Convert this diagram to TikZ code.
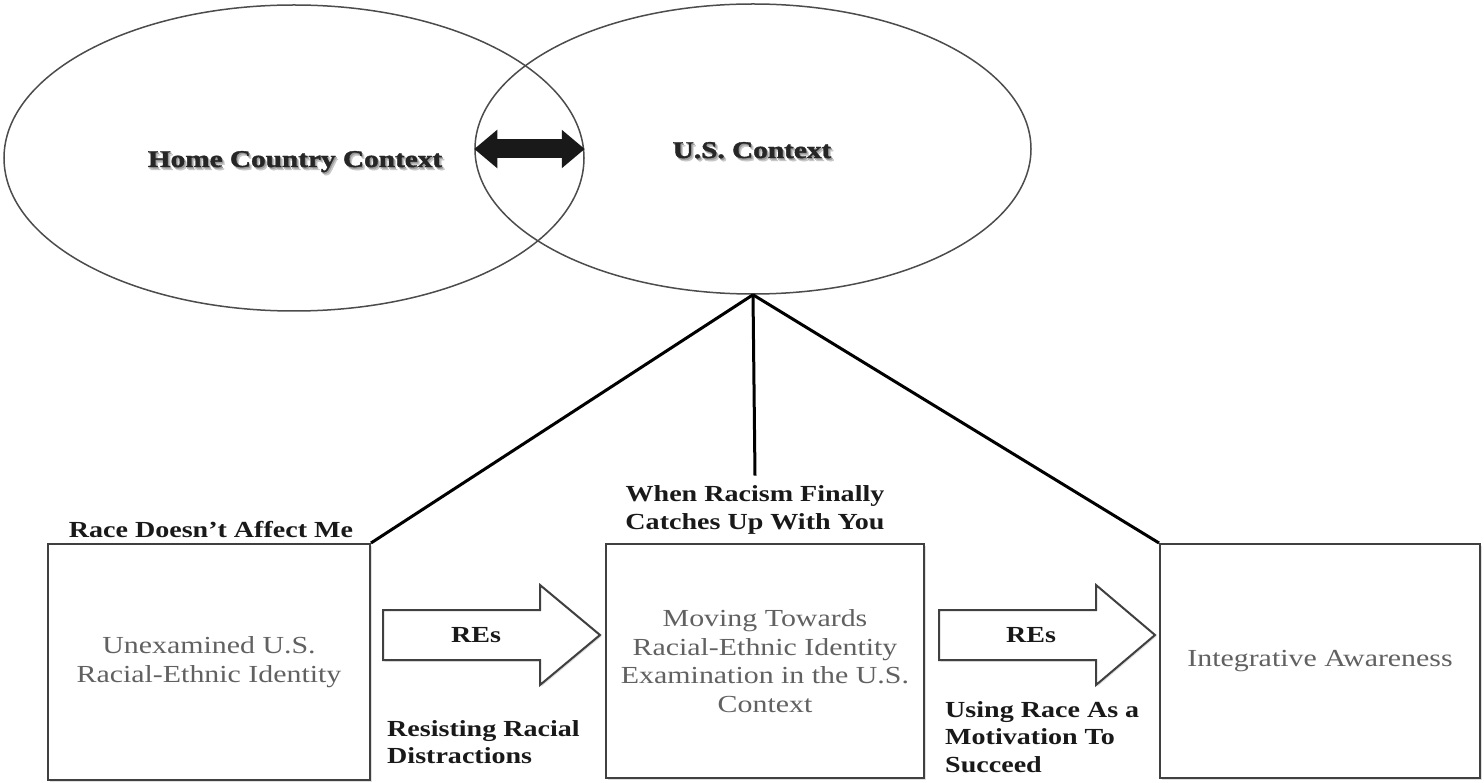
\documentclass[tikz,border=0pt]{standalone}
\usepackage{fontspec}
\setmainfont{Liberation Serif}[FakeStretch=1.22]
\newfontfamily\heavyfont{Liberation Serif}[FakeStretch=1.22, BoldFeatures={FakeBold=1.6}]
\usetikzlibrary{shapes.geometric,arrows.meta,shadows}
\newcommand\shtxt[1]{\leavevmode\rlap{\hspace{2.5pt}\raisebox{-3pt}{\textcolor{black!22}{#1}}}\rlap{\hspace{1.2pt}\raisebox{-1.5pt}{\textcolor{black!40}{#1}}}#1}
\begin{document}
\begin{tikzpicture}[x=1pt,y=-1pt,
  ctx/.style={ellipse, draw=black!70, line width=1.5pt, inner sep=0pt},
  ctxtext/.style={font=\heavyfont\bfseries\fontsize{24}{28}\selectfont, inner sep=0pt, anchor=base, text=black!85},
  stage/.style={rectangle, draw=black!75, line width=2pt, fill=white, text=black!62,
    align=center, font=\fontsize{24.5}{28.5}\selectfont, inner sep=0pt,
    drop shadow={opacity=0.25, shadow xshift=1.5pt, shadow yshift=-1.5pt}},
  lbl/.style={font=\bfseries\fontsize{23}{27.5}\selectfont, inner sep=0pt, text=black!90},
  link/.style={line width=3pt, black},
  biarrow/.style={line width=19pt, black!90,
    {Triangle[length=23pt,width=37pt]}-{Triangle[length=23pt,width=37pt]}},
  blockarrow/.style={draw=black!75, line width=2pt, fill=white, line join=miter,
    drop shadow={opacity=0.25, shadow xshift=1.5pt, shadow yshift=-1.5pt}}]
\fill[white] (0,0) rectangle (1484,783);
\useasboundingbox (0,0) rectangle (1484,783);

% contexts
\node[ctx, minimum width=580pt, minimum height=306pt] (home) at (294,158) {};
\node[ctx, minimum width=556pt, minimum height=290pt] (us) at (753,149) {};
\node[ctxtext] (hometxt) at (295,167) {\shtxt{Home Country Context}};
\node[ctxtext] (ustxt) at (752,158) {\shtxt{U.S. Context}};
\draw[biarrow] (us.west) -- (us.west -| home.east);

% stages
\node[stage, minimum width=322pt, minimum height=236pt] (b1) at (209,662)
  {Unexamined U.S.\\Racial-Ethnic Identity};
\node[stage, minimum width=318pt, minimum height=234pt] (b2) at (765,661)
  {Moving Towards\\Racial-Ethnic Identity\\Examination in the U.S.\\Context};
\node[stage, minimum width=320pt, minimum height=234pt] (b3) at (1320,661)
  {Integrative Awareness};

% labels
\node[lbl, anchor=base] (lbl1) at (211,537) {Race Doesn't Affect Me};
\node[lbl, align=center] (lbl2) at (755,510) {When Racism Finally\\Catches Up With You};
\node[lbl, align=left, anchor=west] (lbl3) at (387,742) {Resisting Racial\\Distractions};
\node[lbl, align=left, anchor=west] (lbl4) at (945,737) {Using Race As a\\Motivation To\\Succeed};

% connectors from U.S. context
\draw[link] (us.south) -- (b1.north east);
\draw[link] (us.south) -- ([yshift=10pt]lbl2.north);
\draw[link] (us.south) -- (b3.north west);

% block arrows
\draw[blockarrow] (383,610) -- (540,610) -- (540,585) -- (600,635) -- (540,685)
  -- (540,660) -- (383,660) -- cycle;
\draw[blockarrow] (939,610) -- (1096,610) -- (1096,585) -- (1155,635) -- (1096,685)
  -- (1096,660) -- (939,660) -- cycle;
\node[lbl] (re1) at (476,635) {REs};
\node[lbl] (re2) at (1031,635) {REs};
\end{tikzpicture}
\end{document}
